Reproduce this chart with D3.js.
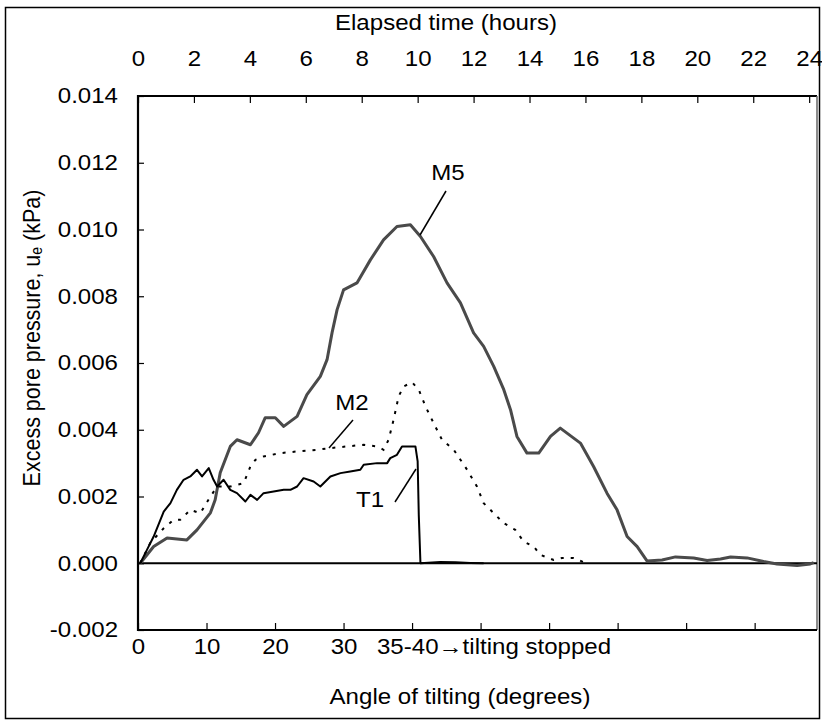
<!DOCTYPE html>
<html>
<head>
<meta charset="utf-8">
<script src="https://cdn.jsdelivr.net/npm/d3@7"></script>
<style>
  body { margin: 0; background: #fff; }
  text { font-family: "Liberation Sans", Arial, sans-serif; fill: #000; }
</style>
</head>
<body>
<svg id="chart" width="822" height="721"></svg>
<script>
// tick values / labels
const hourTicks = [0, 2, 4, 6, 8, 10, 12, 14, 16, 18, 20, 22, 24];
const angleTicks = [0, 10, 20, 30, 40, 50, 60, 70, 80, 90];
const angleLabels = ['0', '10', '20', '30'];
const ueTicks = [-0.002, 0, 0.002, 0.004, 0.006, 0.008, 0.010, 0.012, 0.014];

// series: [elapsed hours, excess pore pressure kPa]
const t1 = [
  [0.08, 0], [0.32, 0.0004], [0.56, 0.0008], [0.92, 0.00155], [1.16, 0.0018], [1.39, 0.0022],
  [1.63, 0.0025], [1.87, 0.0026], [2.11, 0.0028], [2.29, 0.0026], [2.53, 0.00285], [2.70, 0.0025],
  [2.83, 0.0023], [3.06, 0.0025], [3.30, 0.0022], [3.54, 0.0021], [3.84, 0.00185], [4.02, 0.00205],
  [4.26, 0.0019], [4.49, 0.0021], [4.85, 0.00215], [5.21, 0.0022], [5.45, 0.0022], [5.69, 0.0023],
  [5.92, 0.00255], [6.28, 0.00245], [6.52, 0.0023], [6.88, 0.0026], [7.24, 0.0027], [7.59, 0.00275],
  [7.95, 0.0028], [8.07, 0.00295], [8.55, 0.0030], [8.91, 0.0030], [9.02, 0.00315], [9.26, 0.00325],
  [9.44, 0.0035], [9.92, 0.0035], [10.00, 0.00305], [10.04, 0.00145], [10.10, 0], [10.81, 0.00004],
  [11.35, 0.00003], [11.88, 0.00001], [12.36, 0]
];
const m2 = [
  [0.08, 0], [0.44, 0.00061], [0.92, 0.00105], [1.27, 0.0013], [1.51, 0.0013], [1.87, 0.0016],
  [2.23, 0.0015], [2.59, 0.0020], [2.83, 0.0023], [3.30, 0.0023], [3.78, 0.0024], [4.02, 0.0029],
  [4.20, 0.0031], [4.49, 0.0032], [5.09, 0.0033], [5.69, 0.00335], [6.40, 0.0034], [6.88, 0.00345],
  [7.47, 0.0035], [8.07, 0.00355], [8.55, 0.0035], [8.78, 0.0034], [8.96, 0.0037], [9.14, 0.0043],
  [9.32, 0.0050], [9.50, 0.0053], [9.80, 0.00542], [10.04, 0.0052], [10.28, 0.0047], [10.57, 0.0042],
  [10.87, 0.0037], [11.29, 0.0034], [11.53, 0.0031], [11.77, 0.0028], [12.12, 0.0023], [12.36, 0.0018],
  [12.72, 0.0015], [13.08, 0.0012], [13.49, 0.0010], [13.79, 0.00065], [14.15, 0.0005], [14.39, 0.00025],
  [14.86, 0.0001], [15.16, 0.00016], [15.58, 0.00016], [16.00, 0.00001]
];
const m5 = [
  [0.08, 0], [0.56, 0.0005], [1.04, 0.00076], [1.75, 0.0007], [2.11, 0.0010], [2.59, 0.00151],
  [2.76, 0.0019], [2.94, 0.00271], [3.30, 0.0035], [3.54, 0.0037], [4.02, 0.00355], [4.31, 0.00391],
  [4.55, 0.00436], [4.91, 0.00436], [5.21, 0.0041], [5.69, 0.0044], [6.04, 0.00505], [6.52, 0.0056],
  [6.76, 0.0061], [6.94, 0.00691], [7.12, 0.0076], [7.35, 0.00819], [7.83, 0.0084], [8.31, 0.00909],
  [8.78, 0.00969], [9.26, 0.01009], [9.74, 0.01014], [10.10, 0.00979], [10.57, 0.00919], [11.05, 0.0084],
  [11.53, 0.0078], [12.00, 0.0069], [12.36, 0.0065], [12.72, 0.0059], [13.08, 0.0052], [13.32, 0.0046],
  [13.55, 0.0038], [13.91, 0.0033], [14.33, 0.0033], [14.75, 0.0038], [15.10, 0.00405], [15.82, 0.0036],
  [16.29, 0.0029], [16.77, 0.0021], [17.13, 0.0016], [17.49, 0.0008], [17.85, 0.0005], [18.20, 0.00007],
  [18.74, 0.0001], [19.22, 0.00019], [19.87, 0.00016], [20.35, 0.00008], [20.83, 0.00013], [21.19, 0.00019],
  [21.78, 0.00016], [22.37, 0.00005], [22.85, -0.00002], [23.57, -0.00007], [24.04, -0.00002], [24.16, 0.00002]
];

const FONT = 21.5;
const STRETCH = 1.12; // source text is a bit wider than tall

const svg = d3.select('#chart');
const plotL = 138, plotR = 817, plotT = 96, plotB = 630;

const x = d3.scaleLinear().domain([0, 24.28]).range([plotL, plotR]);
const xAngle = d3.scaleLinear().domain([0, 99.1]).range([plotL, plotR]);
const y = d3.scaleLinear().domain([-0.002, 0.014]).range([plotB, plotT]);

// widen glyphs around their anchor point
const stretch = sel => sel.each(function () {
  const t = d3.select(this);
  const ax = +t.attr('x') || 0;
  t.attr('transform', `translate(${ax},0) scale(${STRETCH},1) translate(${-ax},0)`);
});

// outer frame
svg.append('rect').attr('x', 5.5).attr('y', 7.5).attr('width', 814).attr('height', 711)
  .attr('fill', 'none').attr('stroke', '#000').attr('stroke-width', 1.5);

// axes
const styleAxis = g => {
  g.select('.domain').remove();
  g.selectAll('.tick line').attr('stroke', '#000').attr('stroke-width', 1.2);
  g.selectAll('.tick text').attr('font-size', FONT).attr('font-family', null).call(stretch);
};

svg.append('g').attr('transform', `translate(0,${plotT})`)
  .call(d3.axisTop(x).tickValues(hourTicks).tickSize(-7).tickPadding(30).tickFormat(d => d))
  .call(styleAxis);

svg.append('g').attr('transform', `translate(${plotL},0)`)
  .call(d3.axisLeft(y).tickValues(ueTicks).tickSize(-6).tickPadding(20).tickFormat(d => d.toFixed(3)))
  .call(styleAxis);

svg.append('g').attr('transform', `translate(0,${plotB})`)
  .call(d3.axisBottom(xAngle).tickValues(angleTicks).tickSize(-7).tickPadding(9)
    .tickFormat((d, i) => i < angleLabels.length ? angleLabels[i] : ''))
  .call(styleAxis);

// plot box
svg.append('line').attr('x1', plotL).attr('x2', plotR).attr('y1', plotT).attr('y2', plotT)
  .attr('stroke', '#000').attr('stroke-width', 2);
svg.append('line').attr('x1', plotR).attr('x2', plotR).attr('y1', plotT).attr('y2', plotB)
  .attr('stroke', '#666').attr('stroke-width', 1.5);
svg.append('line').attr('x1', plotL).attr('x2', plotL).attr('y1', plotT - 1).attr('y2', plotB + 1)
  .attr('stroke', '#000').attr('stroke-width', 2.2);
svg.append('line').attr('x1', plotL).attr('x2', plotR).attr('y1', plotB).attr('y2', plotB)
  .attr('stroke', '#000').attr('stroke-width', 2.2);

// zero line
svg.append('line').attr('x1', plotL).attr('x2', plotR).attr('y1', y(0)).attr('y2', y(0))
  .attr('stroke', '#000').attr('stroke-width', 2);

// curves
const line = d3.line().x(d => x(d[0])).y(d => y(d[1]));
svg.append('path').datum(m5).attr('d', line).attr('fill', 'none')
  .attr('stroke', '#4a4a4a').attr('stroke-width', 3).attr('stroke-linejoin', 'round');
svg.append('path').datum(m2).attr('d', line).attr('fill', 'none')
  .attr('stroke', '#000').attr('stroke-width', 2).attr('stroke-dasharray', '3,7');
svg.append('path').datum(t1).attr('d', line).attr('fill', 'none')
  .attr('stroke', '#000').attr('stroke-width', 2).attr('stroke-linejoin', 'round');

// curve labels with leader lines
const addLabel = (name, tx, ty, x1, y1, x2, y2) => {
  svg.append('text').attr('x', tx).attr('y', ty).attr('text-anchor', 'middle')
    .attr('font-size', FONT).text(name).call(stretch);
  svg.append('line').attr('x1', x1).attr('y1', y1).attr('x2', x2).attr('y2', y2)
    .attr('stroke', '#000').attr('stroke-width', 1.5);
};
addLabel('M5', 448, 180, 446, 191, 420, 235);
addLabel('M2', 352, 410, 353, 420, 329, 448);
addLabel('T1', 370, 507, 395, 502, 416, 469);

// bottom note next to the angle ticks
svg.append('text').attr('x', 377).attr('y', plotB + 9).attr('dy', '0.71em')
  .attr('font-size', FONT).text('35-40\u2192tilting stopped').call(stretch);

// axis titles
svg.append('text').attr('x', 446).attr('y', 30).attr('text-anchor', 'middle')
  .attr('font-size', FONT).text('Elapsed time (hours)').call(stretch);
svg.append('text').attr('x', 460).attr('y', 704).attr('text-anchor', 'middle')
  .attr('font-size', FONT).text('Angle of tilting (degrees)').call(stretch);

const yTitle = svg.append('text').attr('text-anchor', 'middle').attr('font-size', FONT)
  .attr('transform', `translate(40,338) scale(${STRETCH},1) rotate(-90)`);
yTitle.append('tspan').text('Excess pore pressure, u');
yTitle.append('tspan').attr('font-size', FONT * 0.65).attr('dy', 2).text('e');
yTitle.append('tspan').attr('dy', -2).text(' (kPa)');
</script>
</body>
</html>
